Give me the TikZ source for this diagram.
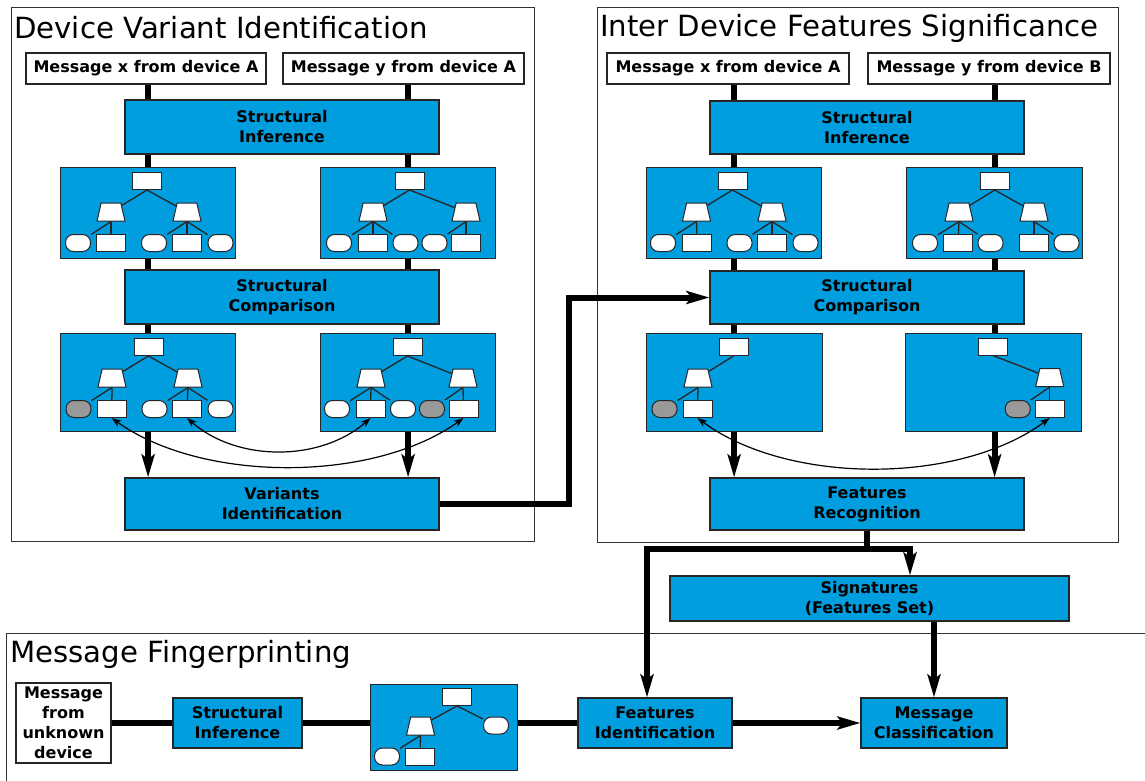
\documentclass[tikz,border=0pt]{standalone}
\usepackage{fontspec}
\setmainfont{DejaVu Sans}
\usetikzlibrary{shapes.geometric,arrows.meta,positioning,backgrounds}
\definecolor{boxblue}{RGB}{0,157,223}
\newcommand{\boxfont}{\fontsize{16}{20}\selectfont\bfseries}
\newcommand{\titlefont}{\fontsize{29.2}{32}\selectfont}

\tikzset{
	panel/.style={draw=black!80, line width=1.3pt, anchor=north west, inner sep=0pt},
	paneltitle/.style={anchor=west, font=\titlefont, inner sep=0pt},
	msg/.style={draw=black!85, fill=white, line width=1.3pt, font=\boxfont, align=center, inner sep=0pt},
	proc/.style={draw=black!85, fill=boxblue, line width=1.2pt, font=\boxfont, align=center, inner sep=0pt},
	tbox/.style={draw=black!85, fill=boxblue, line width=1.2pt, anchor=north west, inner sep=0pt},
	troot/.style={draw=black!85, fill=white, line width=1pt, minimum width=29pt, minimum height=17pt, inner sep=0pt},
	tleaf/.style={troot},
	ttrap/.style={trapezium, trapezium stretches=true, trapezium left angle=78, trapezium right angle=78,
		draw=black!85, fill=white, line width=1pt, minimum width=28pt, minimum height=18pt, inner sep=1pt},
	tell/.style={draw=black!85, fill=white, line width=1pt, rounded corners=8pt, minimum width=25pt, minimum height=17pt, inner sep=0pt},
	tgrey/.style={tell, fill=black!40},
	edge/.style={line width=1.3pt, black!85},
	flow/.style={line width=6pt},
	flowarr/.style={line width=6pt, -{Stealth[length=23pt,width=13pt,inset=5pt]}},
	link/.style={line width=1.2pt, {Stealth[length=10pt,width=7pt]}-{Stealth[length=10pt,width=7pt]}}
}

\begin{document}
\begin{tikzpicture}[x=1pt,y=-1pt]

	\clip (0,0) rectangle (1145,781);

	% panels
	\node[panel, minimum width=523pt, minimum height=534pt] (pvar) at (11,7) {};
	\node[paneltitle] (tvar) at (14,28) {Device Variant Identification};
	\node[panel, minimum width=521pt, minimum height=535pt] (pint) at (597,7) {};
	\node[paneltitle] (tint) at (600,28) {Inter Device Features Significance};
	\node[panel, minimum width=1160pt, minimum height=170pt] (pfin) at (6,633) {};
	\node[paneltitle] (tfin) at (10,654) {Message Fingerprinting};

	% device variant identification
	\node[msg, minimum width=240pt, minimum height=31pt] (msgxa) at (146,68.5) {Message x from device A};
	\node[msg, minimum width=241pt, minimum height=31pt] (msgya) at (403.5,68.5) {Message y from device A};
	\node[proc, minimum width=314pt, minimum height=54pt] (si1) at (282,127) {Structural\\Inference};
	\node[proc, minimum width=314pt, minimum height=54pt] (sc1) at (282,297) {Structural\\Comparison};
	\node[proc, minimum width=314pt, minimum height=52pt] (vi1) at (282,504) {Variants\\Identification};

	% inter device features significance
	\node[msg, minimum width=242pt, minimum height=31pt] (msgxb) at (728,68.5) {Message x from device A};
	\node[msg, minimum width=242pt, minimum height=31pt] (msgyb) at (989,68.5) {Message y from device B};
	\node[proc, minimum width=314pt, minimum height=53pt] (si2) at (867,127.5) {Structural\\Inference};
	\node[proc, minimum width=314pt, minimum height=53pt] (sc2) at (867,297.5) {Structural\\Comparison};
	\node[proc, minimum width=314pt, minimum height=52pt] (fr) at (867,504) {Features\\Recognition};
	\node[proc, minimum width=399pt, minimum height=45pt] (sig) at (869.5,598.5) {Signatures\\(Features Set)};

	% message fingerprinting
	\node[msg, minimum width=95pt, minimum height=80pt] (unk) at (63.5,723) {Message\\from\\unknown\\device};
	\node[proc, minimum width=129pt, minimum height=50pt] (si3) at (237.5,723) {Structural\\Inference};
	\node[proc, minimum width=154pt, minimum height=50pt] (fi) at (655,723) {Features\\Identification};
	\node[proc, minimum width=146pt, minimum height=50pt] (mc) at (934,723) {Message\\Classification};

	% trees
	\begin{scope}[shift={(60,167)}]
		\node[tbox, minimum width=175pt, minimum height=91pt] (tx1) at (0,0) {};
		\node[troot] (t1r) at (87,14) {};
		\foreach \n/\s/\x/\y/\p in {a/ttrap/51/45/r, b/ttrap/127/45/r, c/tell/18/76/a, d/tleaf/51/76/a, e/tell/94/76/b, f/tleaf/127/76/b, g/tell/160.5/76/b}
		{\node[\s] (t1\n) at (\x,\y) {}; \draw[edge] (t1\p.south) -- (t1\n);}
	\end{scope}
	\begin{scope}[shift={(320,167)}]
		\node[tbox, minimum width=175pt, minimum height=91pt] (tx2) at (0,0) {};
		\node[troot] (t2r) at (89.5,14) {};
		\foreach \n/\s/\x/\y/\p in {a/ttrap/53/45/r, b/ttrap/146/45/r, c/tell/19/76/a, d/tleaf/53/76/a, e/tell/85.5/76/a, f/tell/114.5/76/b, g/tleaf/146/76/b}
		{\node[\s] (t2\n) at (\x,\y) {}; \draw[edge] (t2\p.south) -- (t2\n);}
	\end{scope}
	\begin{scope}[shift={(60,333)}]
		\node[tbox, minimum width=175pt, minimum height=98pt] (tx3) at (0,0) {};
		\node[troot] (t3r) at (88.5,14) {};
		\foreach \n/\s/\x/\y/\p in {a/ttrap/52/45/r, b/ttrap/128/45/r, c/tgrey/18.5/76/a, d/tleaf/51.7/76/a, e/tell/94.5/76/b, f/tleaf/127/76/b, g/tell/160.5/76/b}
		{\node[\s] (t3\n) at (\x,\y) {}; \draw[edge] (t3\p.south) -- (t3\n);}
	\end{scope}
	\begin{scope}[shift={(320,333)}]
		\node[tbox, minimum width=175pt, minimum height=98pt] (tx4) at (0,0) {};
		\node[troot] (t4r) at (87.5,14) {};
		\foreach \n/\s/\x/\y/\p in {a/ttrap/51/45/r, b/ttrap/143/45/r, c/tell/17/76/a, d/tleaf/50.5/76/a, e/tell/83/76/a, f/tgrey/112/76/b, g/tleaf/143.5/76/b}
		{\node[\s] (t4\n) at (\x,\y) {}; \draw[edge] (t4\p.south) -- (t4\n);}
	\end{scope}
	\begin{scope}[shift={(646,167)}]
		\node[tbox, minimum width=175pt, minimum height=91pt] (tx5) at (0,0) {};
		\node[troot] (t5r) at (86.5,14) {};
		\foreach \n/\s/\x/\y/\p in {a/ttrap/50.5/45/r, b/ttrap/126/45/r, c/tell/17/76/a, d/tleaf/51/76/a, e/tell/93.5/76/b, f/tleaf/126/76/b, g/tell/159.5/76/b}
		{\node[\s] (t5\n) at (\x,\y) {}; \draw[edge] (t5\p.south) -- (t5\n);}
	\end{scope}
	\begin{scope}[shift={(906,167)}]
		\node[tbox, minimum width=176pt, minimum height=91pt] (tx6) at (0,0) {};
		\node[troot] (t6r) at (88.7,14) {};
		\foreach \n/\s/\x/\y/\p in {a/ttrap/53/45/r, b/ttrap/128/45/r, c/tell/19/76/a, d/tleaf/52/76/a, e/tell/84.5/76/a, f/tleaf/128/76/b, g/tell/160.5/76/b}
		{\node[\s] (t6\n) at (\x,\y) {}; \draw[edge] (t6\p.south) -- (t6\n);}
	\end{scope}
	\begin{scope}[shift={(646,333)}]
		\node[tbox, minimum width=176pt, minimum height=98pt] (tx7) at (0,0) {};
		\node[troot] (t7r) at (87.5,14) {};
		\foreach \n/\s/\x/\y/\p in {a/ttrap/52/45/r, c/tgrey/18.5/76/a, d/tleaf/51.5/76/a}
		{\node[\s] (t7\n) at (\x,\y) {}; \draw[edge] (t7\p.south) -- (t7\n);}
	\end{scope}
	\begin{scope}[shift={(905,333)}]
		\node[tbox, minimum width=176pt, minimum height=98pt] (tx8) at (0,0) {};
		\node[troot] (t8r) at (87.8,13.5) {};
		\foreach \n/\s/\x/\y/\p in {b/ttrap/144.7/44.5/r, c/tgrey/112.7/76/b, d/tleaf/144.7/76/b}
		{\node[\s] (t8\n) at (\x,\y) {}; \draw[edge] (t8\p.south) -- (t8\n);}
	\end{scope}
	\begin{scope}[shift={(370,684)}]
		\node[tbox, minimum width=147pt, minimum height=86pt] (tx9) at (0,0) {};
		\node[troot] (t9r) at (87,13) {};
		\foreach \n/\s/\x/\y/\p in {a/ttrap/50.5/42/r, b/tell/126/41.5/r, c/tell/17/72.5/a, d/tleaf/50/72.5/a}
		{\node[\s] (t9\n) at (\x,\y) {}; \draw[edge] (t9\p.south) -- (t9\n);}
	\end{scope}

	% thick connectors
	\begin{scope}[on background layer]
		\foreach \m/\t/\e in {msgxa/tx1/vi1, msgya/tx2/vi1, msgxb/tx5/fr, msgyb/tx6/fr}
			\draw[flowarr] (\m.south -| \t.north) -- (\e.north -| \t.north);
	\end{scope}
	\draw[flowarr] (vi1.east) -- ++(129,0) |- (sc2.west);
	\draw[flowarr] (fr.south) -- ++(0,18) -| ([xshift=-8pt]fi.north);
	\draw[flowarr] (fr.south) -- ++(0,18) -| ([xshift=40.5pt]sig.north);
	\draw[flowarr] (sig.south -| mc.north) -- (mc.north);
	\draw[flow] (unk.east) -- (si3.west);
	\draw[flow] (si3.east) -- (si3.east -| tx9.west);
	\draw[flow] (fi.west -| tx9.east) -- (fi.west);
	\draw[flowarr] (fi.east) -- (mc.west);

	% field links
	\draw[link] (t3d.south) .. controls +(90,65) and +(-90,65) .. (t4g.south);
	\draw[link] (t3f.south) .. controls +(50,44) and +(-50,44) .. (t4d.south);
	\draw[link] (t7d.south) .. controls +(90,67) and +(-90,67) .. (t8d.south);

\end{tikzpicture}
\end{document}
